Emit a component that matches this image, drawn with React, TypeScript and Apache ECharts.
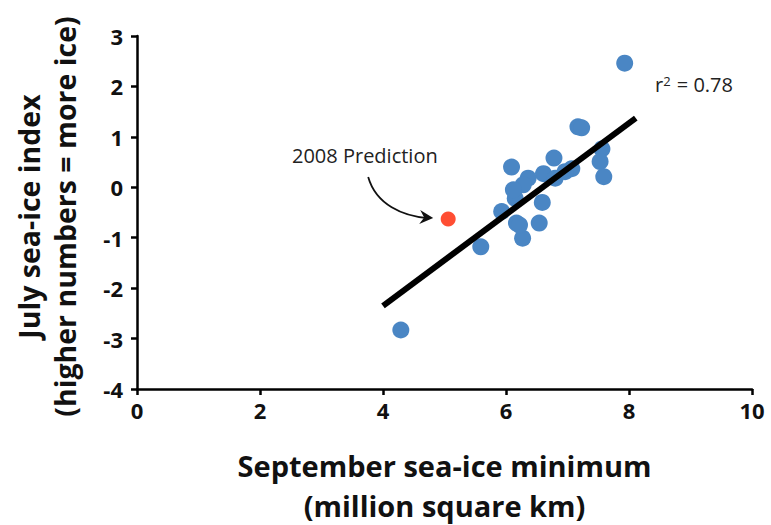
import React, { useEffect, useRef } from "react";
import * as echarts from "echarts";

const xTicks = [0, 2, 4, 6, 8, 10];
const yTicks = [-4, -3, -2, -1, 0, 1, 2, 3];

const observedX = [7.93, 7.17, 7.23, 6.09, 6.78, 7.56, 7.53, 7.59, 7.07, 6.96, 6.61, 6.8, 6.36, 6.28, 6.15, 6.59, 5.93, 6.17, 6.54, 6.27, 5.59, 4.29, 6.22, 6.12];
const observedY = [2.46, 1.2, 1.18, 0.4, 0.58, 0.76, 0.51, 0.21, 0.37, 0.31, 0.27, 0.18, 0.18, 0.05, -0.22, -0.3, -0.48, -0.71, -0.71, -1.01, -1.18, -2.83, -0.75, -0.05];

const predictionX = [5.06];
const predictionY = [-0.63];

const fitX = [4.0, 8.11];
const fitY = [-2.35, 1.37];

const FONT = "'Open Sans', Lato, sans-serif";

export default function App() {
  const ref = useRef<HTMLDivElement>(null);
  useEffect(() => {
    if (!ref.current) return;
    const chart = echarts.init(ref.current, null, { renderer: "svg" });
    const option: any = {
      animation: false,
      backgroundColor: "#ffffff",
      grid: { left: 137, right: 19, top: 36, bottom: 136, containLabel: false, outerBoundsMode: "none" },
      xAxis: {
        type: "value",
        min: xTicks[0],
        max: xTicks[xTicks.length - 1],
        interval: 2,
        name: "September sea-ice minimum\n(million square km)",
        nameLocation: "middle",
        nameGap: 56,
        nameTextStyle: { fontFamily: FONT, fontWeight: "bold", fontSize: 29, color: "#111", lineHeight: 40 },
        axisLine: { onZero: false, lineStyle: { color: "#000", width: 2.5 } },
        axisTick: { show: true, length: 6, lineStyle: { color: "#000", width: 2.5 } },
        axisLabel: { fontFamily: FONT, fontWeight: "bold", fontSize: 22, color: "#111", margin: 10 },
        splitLine: { show: false },
      },
      yAxis: {
        type: "value",
        min: yTicks[0],
        max: yTicks[yTicks.length - 1],
        interval: 1,
        name: "July sea-ice index\n(higher numbers = more ice)",
        nameLocation: "middle",
        nameRotate: 90,
        nameGap: 54,
        nameTextStyle: {
          fontFamily: FONT,
          fontWeight: "bold",
          fontSize: 28.5,
          color: "#111",
          lineHeight: 36,
          padding: [0, 8, 0, 0],
        },
        axisLine: { onZero: false, lineStyle: { color: "#000", width: 2.5 } },
        axisTick: { show: true, length: 6, lineStyle: { color: "#000", width: 2.5 } },
        axisLabel: { fontFamily: FONT, fontWeight: "bold", fontSize: 22, color: "#111", margin: 14 },
        splitLine: { show: false },
      },
      series: [
        {
          type: "line",
          data: fitX.map((x, i) => [x, fitY[i]]),
          showSymbol: false,
          symbol: "none",
          lineStyle: { color: "#000", width: 6 },
          z: 3,
        },
        {
          type: "scatter",
          data: observedX.map((x, i) => [x, observedY[i]]),
          symbolSize: 17,
          itemStyle: { color: "#4a86c4", opacity: 1 },
          z: 2,
        },
        {
          type: "scatter",
          data: predictionX.map((x, i) => [x, predictionY[i]]),
          symbolSize: 15,
          itemStyle: { color: "#ff2200" },
          z: 4,
        },
      ],
    };
    chart.setOption(option);

    const [px, py] = chart.convertToPixel({ gridIndex: 0 }, [predictionX[0], predictionY[0]]) as number[];
    const tip = [px - 15, py - 1];
    const start = [px - 80, py - 42];
    chart.setOption({
      graphic: [
        {
          type: "text",
          left: 292,
          top: 145,
          style: { text: "2008 Prediction", fontFamily: FONT, fontSize: 20, fill: "#222" },
        },
        {
          type: "text",
          left: 655,
          top: 74,
          style: {
            text: "r{sup|2} = 0.78",
            fontFamily: FONT,
            fontSize: 20,
            fill: "#222",
            rich: { sup: { fontSize: 13, verticalAlign: "top", padding: [0, 1, 8, 0], fontFamily: FONT, fill: "#222" } },
          },
        },
        {
          type: "bezierCurve",
          shape: {
            x1: start[0],
            y1: start[1],
            cpx1: start[0] + 8,
            cpy1: start[1] + 28,
            cpx2: tip[0] - 30,
            cpy2: tip[1] - 2,
            x2: tip[0] - 6,
            y2: tip[1],
          },
          style: { stroke: "#111", lineWidth: 1.8, fill: null },
        },
        {
          type: "polygon",
          shape: {
            points: [
              [tip[0], tip[1]],
              [tip[0] - 13, tip[1] - 8],
              [tip[0] - 9, tip[1] - 0.5],
              [tip[0] - 14, tip[1] + 6],
            ],
          },
          style: { fill: "#111" },
        },
      ],
    });

    return () => chart.dispose();
  }, []);
  return <div ref={ref} style={{ position: "absolute", left: 0, top: 0, width: 771, height: 525 }} />;
}
